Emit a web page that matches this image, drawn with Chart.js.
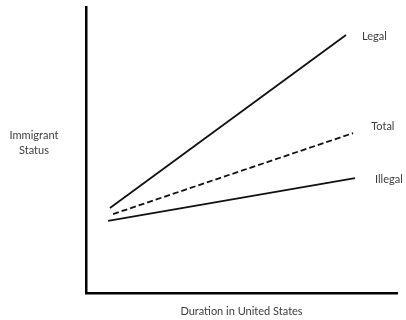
<!DOCTYPE html>
<html>
<head>
<meta charset="utf-8">
<script src="https://cdn.jsdelivr.net/npm/chart.js@4.4.0/dist/chart.umd.min.js"></script>
<style>
  html, body { margin: 0; padding: 0; background: #fff; }
  canvas { display: block; }
</style>
</head>
<body>
<canvas id="statusChart" width="406" height="320"></canvas>
<script>
// values (x: duration, y: status, both 0-100)
var seriesNames = ['Legal', 'Total', 'Illegal'];
var legalValues = [{x: 7.7, y: 29.7}, {x: 83.6, y: 90.2}];
var totalValues = [{x: 8.7, y: 27.6}, {x: 85.9, y: 55.9}];
var illegalValues = [{x: 7.1, y: 25.2}, {x: 86.5, y: 40.2}];
var xTitle = 'Duration in United States';
var yTitle = ['Immigrant', 'Status'];

var textColor = '#3c3c3c';
var textFont = '11px Lato, "Open Sans", sans-serif';

// end-of-line labels and the horizontal y title
var labelPlugin = {
  id: 'labelPlugin',
  afterDraw: function (chart) {
    var ctx = chart.ctx;
    var area = chart.chartArea;
    ctx.save();
    ctx.font = textFont;
    ctx.fillStyle = textColor;
    ctx.textBaseline = 'middle';
    ctx.textAlign = 'left';
    var shift = [{dx: 16, dy: 1}, {dx: 18, dy: -7}, {dx: 20, dy: 1}];
    chart.data.datasets.forEach(function (ds, i) {
      var meta = chart.getDatasetMeta(i);
      var last = meta.data[meta.data.length - 1];
      ctx.fillText(ds.label, last.x + shift[i].dx, last.y + shift[i].dy);
    });
    ctx.textAlign = 'center';
    ctx.fillText(yTitle[0], 34, 135);
    ctx.fillText(yTitle[1], 34, 150);
    ctx.fillText(xTitle, (area.left + area.right) / 2, 311);
    ctx.restore();
  }
};

var ctx = document.getElementById('statusChart');
var myChart = new Chart(ctx, {
  type: 'line',
  plugins: [labelPlugin],
  data: {
    datasets: [
      {
        label: seriesNames[0],
        data: legalValues,
        borderColor: '#111',
        borderWidth: 1.8,
        pointRadius: 0,
      },
      {
        label: seriesNames[1],
        data: totalValues,
        borderColor: '#111',
        borderWidth: 1.8,
        borderDash: [6, 3],
        pointRadius: 0,
      },
      {
        label: seriesNames[2],
        data: illegalValues,
        borderColor: '#111',
        borderWidth: 1.8,
        pointRadius: 0,
      },
    ]
  },
  options: {
    responsive: false,
    animation: false,
    layout: {
      padding: {left: 86, right: 9, top: 7, bottom: 27}
    },
    plugins: {
      legend: {display: false},
      tooltip: {enabled: false},
    },
    scales: {
      x: {
        type: 'linear',
        min: 0,
        max: 100,
        ticks: {display: false},
        grid: {display: false, drawTicks: false},
        border: {display: true, color: '#000', width: 2.5},
        afterFit: function (s) { s.height = 0; }
      },
      y: {
        min: 0,
        max: 100,
        ticks: {display: false},
        grid: {display: false, drawTicks: false},
        border: {display: true, color: '#000', width: 2.5},
        afterFit: function (s) { s.width = 0; }
      }
    }
  }
});
</script>
</body>
</html>
